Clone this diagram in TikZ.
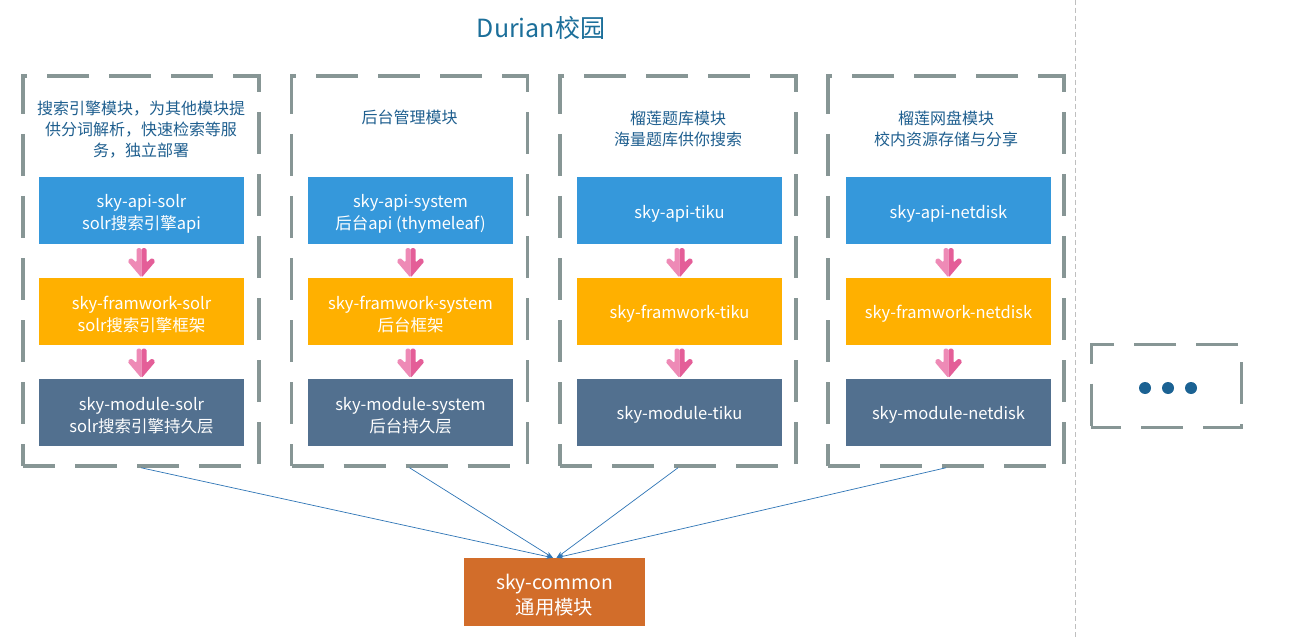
\documentclass[tikz,border=0pt]{standalone}
\usepackage{fontspec}
\setmainfont{Noto Sans CJK SC}
\usetikzlibrary{arrows.meta,calc}
\definecolor{apiblue}{HTML}{3598DB}
\definecolor{fworange}{HTML}{FFB000}
\definecolor{modslate}{HTML}{52708F}
\definecolor{commonor}{HTML}{D26D2A}
\definecolor{dashgray}{HTML}{879695}
\definecolor{txtblue}{HTML}{1F5F8F}
\definecolor{pinkL}{HTML}{EE8AB6}
\definecolor{pinkD}{HTML}{E45E98}
\definecolor{dotblue}{HTML}{1B6293}
\definecolor{connblue}{HTML}{2E75B6}
\tikzset{
  groupbox/.style={draw=dashgray, line width=3.5pt, dash pattern=on 42pt off 20pt, dash phase=10pt,
    minimum width=236pt, minimum height=390pt, inner sep=0pt},
  modbox/.style={minimum width=205pt, minimum height=67pt, inner sep=0pt},
  apibox/.style={modbox, fill=apiblue},
  fwbox/.style={modbox, fill=fworange},
  mdbox/.style={modbox, fill=modslate},
  modtext/.style={text=white, align=center, inner sep=0pt, font=\fontsize{16.5}{21.5}\selectfont},
  desc/.style={text=txtblue, align=center, font=\fontsize{16}{21}\selectfont, inner sep=0pt},
  conn/.style={draw=connblue, line width=0.7pt, -{Stealth[length=7pt,width=5pt]}},
  pics/pinkarrow/.style={code={
    \fill[pinkL, rounded corners=1.5pt] (0,0) -- (-5,0) -- (-5,14.5) -- (-10.5,9.5) -- (-14,13) -- (0,29.5) -- cycle;
    \fill[pinkD, rounded corners=1.5pt] (0,0) -- (5,0) -- (5,14.5) -- (10.5,9.5) -- (14,13) -- (0,29.5) -- cycle;
  }}
}
\begin{document}
\begin{tikzpicture}[x=1pt,y=-1pt]
\useasboundingbox (0,0) rectangle (1298,639);
\fill[white] (0,0) rectangle (1298,639);

% separator
\draw[draw=black!25, line width=1pt, dash pattern=on 5pt off 3pt] (1075,0) -- (1075,639);

% title
\node[text=txtblue!90!cyan, font=\fontsize{25}{29}\selectfont, inner sep=0pt] (title) at (541,28) {Durian校园};

% group boxes
\node[groupbox] (g1) at (141,271) {};
\node[groupbox] (g2) at (409.5,271) {};
\node[groupbox] (g3) at (678,271) {};
\node[groupbox] (g4) at (946,271) {};

% descriptions
\node[desc] (d1) at (141,130) {搜索引擎模块，为其他模块提\\供分词解析，快速检索等服\\务，独立部署};
\node[desc] (d2) at (409.5,117) {后台管理模块};
\node[desc] (d3) at (678,129) {榴莲题库模块\\海量题库供你搜索};
\node[desc] (d4) at (946,129) {榴莲网盘模块\\校内资源存储与分享};

% module boxes
\node[apibox] (a1) at (141.5,210.5) {};
\node[fwbox]  (f1) at (141.5,311) {};
\node[mdbox]  (m1) at (141.5,412) {};
\node[apibox] (a2) at (410.5,210.5) {};
\node[fwbox]  (f2) at (410.5,311) {};
\node[mdbox]  (m2) at (410.5,412) {};
\node[apibox] (a3) at (679.5,210.5) {};
\node[fwbox]  (f3) at (679.5,311) {};
\node[mdbox]  (m3) at (679.5,412) {};
\node[apibox] (a4) at (948.5,210.5) {};
\node[fwbox]  (f4) at (948.5,311) {};
\node[mdbox]  (m4) at (948.5,412) {};

% module texts
\node[modtext] (a1t) at ($(a1)+(0,3.5)$) {sky-api-solr\\solr搜索引擎api};
\node[modtext] (f1t) at ($(f1)+(0,3.5)$) {sky-framwork-solr\\solr搜索引擎框架};
\node[modtext] (m1t) at ($(m1)+(0,3.5)$) {sky-module-solr\\solr搜索引擎持久层};
\node[modtext] (a2t) at ($(a2)+(0,3.5)$) {sky-api-system\\后台api (thymeleaf)};
\node[modtext] (f2t) at ($(f2)+(0,3.5)$) {sky-framwork-system\\后台框架};
\node[modtext] (m2t) at ($(m2)+(0,3.5)$) {sky-module-system\\后台持久层};
\node[modtext] (a3t) at ($(a3)+(0,3)$) {sky-api-tiku};
\node[modtext] (f3t) at ($(f3)+(0,3)$) {sky-framwork-tiku};
\node[modtext] (m3t) at ($(m3)+(0,3)$) {sky-module-tiku};
\node[modtext] (a4t) at ($(a4)+(0,3)$) {sky-api-netdisk};
\node[modtext] (f4t) at ($(f4)+(0,3)$) {sky-framwork-netdisk};
\node[modtext] (m4t) at ($(m4)+(0,3)$) {sky-module-netdisk};

% pink arrows
\foreach \i in {1,2,3,4}{
  \pic at ($(a\i.south)+(0,4)$) {pinkarrow};
  \pic at ($(f\i.south)+(0,4)$) {pinkarrow};
}

% ellipsis box
\node[draw=dashgray, line width=3pt, dash pattern=on 42pt off 20pt, dash phase=12pt,
  minimum width=150pt, minimum height=83pt, inner sep=0pt] (more) at (1166,386) {};
\fill[dotblue] (1145,388) circle (6pt) (1168,388) circle (6pt) (1191,388) circle (6pt);

% common
\node[fill=commonor, minimum width=181pt, minimum height=68pt, inner sep=0pt] (c) at (554.5,592) {};
\node[text=white, inner sep=0pt, align=center, font=\fontsize{19.3}{25}\selectfont] (ct) at ($(c)+(0,3)$) {sky-common\\通用模块};

% connectors
\draw[conn] (g1.south) -- ([xshift=-1.5pt]c.north);
\draw[conn] (g2.south) -- ([xshift=-1.5pt]c.north);
\draw[conn] (g3.south) -- ([xshift=2pt]c.north);
\draw[conn] (g4.south) -- ([xshift=2pt]c.north);
\end{tikzpicture}
\end{document}
